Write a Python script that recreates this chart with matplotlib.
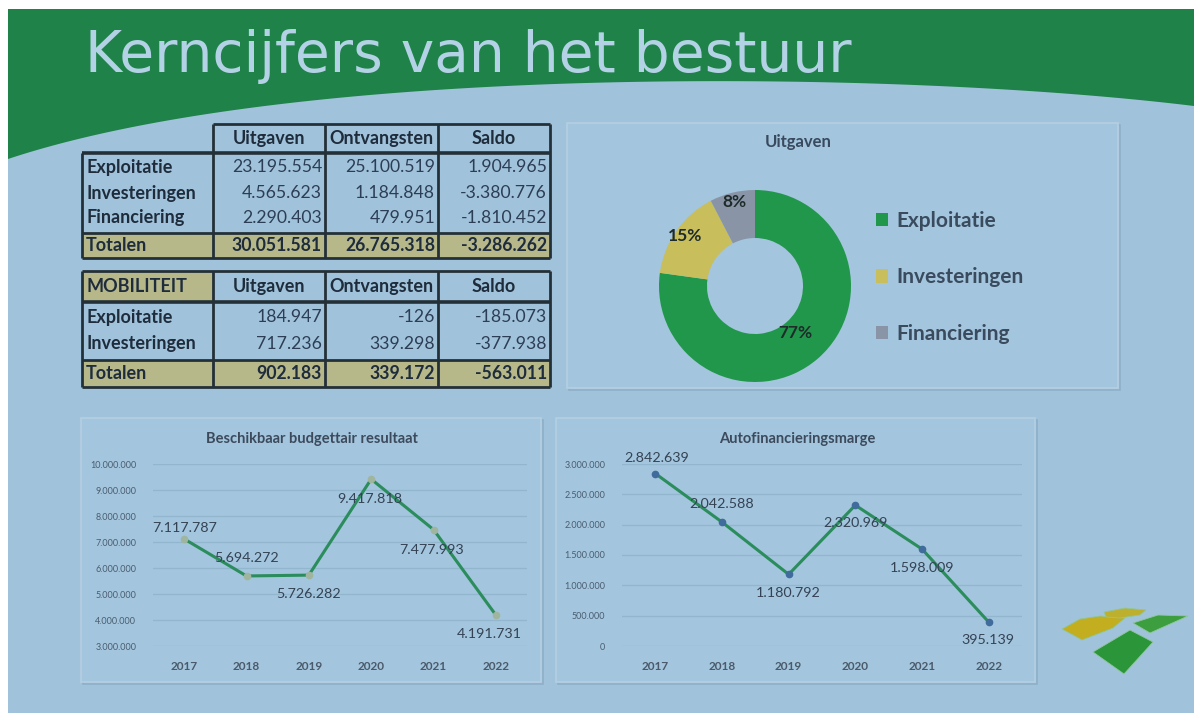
import numpy as np
import matplotlib
matplotlib.use("Agg")
import matplotlib.pyplot as plt
from matplotlib.patches import Polygon, Rectangle
from matplotlib.ticker import FuncFormatter

# ---------------- data ----------------
title = "Kerncijfers van het bestuur"
col_headers = ["Uitgaven", "Ontvangsten", "Saldo"]

t1_rows = ["Exploitatie", "Investeringen", "Financiering"]
t1_uitgaven = [23195554, 4565623, 2290403]
t1_ontvangsten = [25100519, 1184848, 479951]
t1_saldo = [1904965, -3380776, -1810452]
t1_totals = [30051581, 26765318, -3286262]

t2_title = "MOBILITEIT"
t2_rows = ["Exploitatie", "Investeringen"]
t2_uitgaven = [184947, 717236]
t2_ontvangsten = [-126, 339298]
t2_saldo = [-185073, -377938]
t2_totals = [902183, 339172, -563011]
totals_label = "Totalen"

donut_title = "Uitgaven"
donut_labels = ["Exploitatie", "Investeringen", "Financiering"]
donut_values = t1_uitgaven

years = ["2017", "2018", "2019", "2020", "2021", "2022"]
bbr_title = "Beschikbaar budgettair resultaat"
bbr_values = [7117787, 5694272, 5726282, 9417818, 7477993, 4191731]
afm_title = "Autofinancieringsmarge"
afm_values = [2842639, 2042588, 1180792, 2320969, 1598009, 395139]

# ---------------- style ----------------
W, H = 1194, 713
BG = "#A0C3DB"
GREEN_HDR = "#1F8249"
TXT = "#1E2C3C"
NUM = "#2C3E55"
OLIVE = "#B6B88A"
LINE = "#243038"
FONT = "Lato"
LBL_FS = 13
NUM_FS = 12.7

def nl(v):
    return f"{v:,}".replace(",", ".")

fig = plt.figure(figsize=(W / 100, H / 100), dpi=100)
fig.patch.set_facecolor("white")
bg = fig.add_axes([0, 0, 1, 1])
bg.set_xlim(0, W)
bg.set_ylim(H, 0)
bg.axis("off")

# slide background
bg.add_patch(Rectangle((8, 9), W - 8, H - 9, facecolor=BG, edgecolor="none", zorder=0))
# green header with curved bottom (cubic bezier)
P0, P1, P2, P3 = np.array([8, 159]), np.array([300, 62]), np.array([900, 70]), np.array([1194, 106])
t = np.linspace(0, 1, 200)[:, None]
curve = (1 - t) ** 3 * P0 + 3 * (1 - t) ** 2 * t * P1 + 3 * (1 - t) * t ** 2 * P2 + t ** 3 * P3
hdr = np.vstack([[[8, 9], [1194, 9]], curve[::-1]])
bg.add_patch(Polygon(hdr, closed=True, facecolor=GREEN_HDR, edgecolor="none", zorder=1))

# title fitted to width
tt = bg.text(85, 72, title, fontsize=40, color="#B4D2E6", family="DejaVu Sans",
             ha="left", va="baseline", zorder=5)
fig.canvas.draw()
r = fig.canvas.get_renderer()
w = tt.get_window_extent(r).width
tt.set_fontsize(40 * 765 / w)

# ---------------- tables ----------------
cx = [82, 213, 325, 438, 550]

def hline(y, x0, x1, lw=2.0):
    bg.plot([x0, x1], [y, y], color=LINE, lw=lw, zorder=4, solid_capstyle="butt")

def vline(x, y0, y1, lw=2.0):
    bg.plot([x, x], [y0, y1], color=LINE, lw=lw, zorder=4, solid_capstyle="butt")

def draw_table(top, hdr_bot, row_ys, tot_top, tot_bot, rows, cols, totals, corner=None):
    bg.add_patch(Rectangle((cx[0], tot_top), cx[-1] - cx[0], tot_bot - tot_top,
                           facecolor=OLIVE, edgecolor="none", zorder=2))
    hy = (top + hdr_bot) / 2
    if corner:
        bg.add_patch(Rectangle((cx[0], top), cx[1] - cx[0], hdr_bot - top,
                               facecolor=OLIVE, edgecolor="none", zorder=2))
        bg.text(cx[0] + 4, hy, corner, fontsize=LBL_FS, weight="bold", color=TXT,
                family=FONT, ha="left", va="center", zorder=5)
        hline(top, cx[0], cx[-1])
        vline(cx[0], top, tot_bot)
    else:
        hline(top, cx[1], cx[-1])
        vline(cx[0], hdr_bot, tot_bot)
    for j, h in enumerate(col_headers):
        bg.text((cx[j + 1] + cx[j + 2]) / 2, hy, h, fontsize=LBL_FS, weight="bold",
                color=TXT, family=FONT, ha="center", va="center", zorder=5)
    hline(hdr_bot, cx[0], cx[-1], lw=2.6)
    hline(tot_top, cx[0], cx[-1])
    hline(tot_bot, cx[0], cx[-1])
    for x in cx[1:]:
        vline(x, top, tot_bot)
    for i, name in enumerate(rows):
        y = row_ys[i]
        bg.text(cx[0] + 4, y, name, fontsize=LBL_FS, weight="bold", color=TXT,
                family=FONT, ha="left", va="center", zorder=5)
        for j, col in enumerate(cols):
            bg.text(cx[j + 2] - 3, y, nl(col[i]), fontsize=NUM_FS, color=NUM,
                    family=FONT, ha="right", va="center", zorder=5)
    ty = (tot_top + tot_bot) / 2
    bg.text(cx[0] + 4, ty, totals_label, fontsize=LBL_FS, weight="bold", color=TXT,
            family=FONT, ha="left", va="center", zorder=5)
    for j, v in enumerate(totals):
        bg.text(cx[j + 2] - 3, ty, nl(v), fontsize=NUM_FS, weight="bold", color=TXT,
                family=FONT, ha="right", va="center", zorder=5)

draw_table(124, 153, [167, 193, 218], 233, 258, t1_rows,
           [t1_uitgaven, t1_ontvangsten, t1_saldo], t1_totals)
draw_table(271, 302, [317, 344], 360, 387, t2_rows,
           [t2_uitgaven, t2_ontvangsten, t2_saldo], t2_totals, corner=t2_title)

# ---------------- panels ----------------
def panel(x0, y0, x1, y1):
    bg.add_patch(Rectangle((x0 + 2, y0 + 2), x1 - x0, y1 - y0, facecolor="none",
                           edgecolor="#8EAFC8", lw=1.2, zorder=1.5))
    bg.add_patch(Rectangle((x0, y0), x1 - x0, y1 - y0, facecolor="#A3C5DD",
                           edgecolor="#B5CFE2", lw=1.2, zorder=2))

panel(567, 123, 1118, 388)
panel(81, 418, 541, 682)
panel(556, 418, 1035, 682)

def px_axes(x0, y0, x1, y1):
    return fig.add_axes([x0 / W, 1 - y1 / H, (x1 - x0) / W, (y1 - y0) / H])

# ---------------- donut ----------------
bg.text(798, 142, donut_title, fontsize=12, weight="bold", color="#3A4A5E",
        family=FONT, ha="center", va="center", zorder=5)
dax = px_axes(655, 186, 855, 386)
dax.set_zorder(3)
wedges, _, autot = dax.pie(donut_values, colors=["#21974B", "#C8BE5C", "#8995A6"],
                           startangle=90, counterclock=False, radius=0.96,
                           autopct=lambda p: f"{p:.0f}%", pctdistance=0.76,
                           wedgeprops=dict(width=0.48, edgecolor="none"),
                           textprops=dict(fontsize=12.5, weight="bold", color="#1E2B2A",
                                          family=FONT))
label_r = [0.62, 0.86, 0.86]
for wdg, at, rr in zip(wedges, autot, label_r):
    ang = np.deg2rad((wdg.theta1 + wdg.theta2) / 2)
    at.set_position((rr * np.cos(ang), rr * np.sin(ang)))
dax.set_xlim(-1, 1)
dax.set_ylim(-1, 1)
dax.set_aspect("equal")
dax.axis("off")
leg = fig.legend(wedges, donut_labels, loc="upper left",
                 bbox_to_anchor=(857 / W, 1 - 192 / H), frameon=False,
                 handlelength=0.6, handleheight=0.6, handletextpad=0.4,
                 labelspacing=1.76, prop=dict(family=FONT, weight="bold", size=15))
for txt in leg.get_texts():
    txt.set_color("#3A4B5E")

# ---------------- line charts ----------------
def line_chart(box, values, ylim, step, ttl, title_xy, marker_color, offsets):
    ax = px_axes(*box)
    ax.set_zorder(3)
    ax.patch.set_alpha(0)
    x = np.arange(len(years))
    ax.plot(x, values, color="#2B8C5C", lw=2.2, zorder=3)
    ax.plot(x, values, "o", ms=4.5, color=marker_color, zorder=4)
    ax.set_xlim(-0.5, len(years) - 0.5)
    ax.set_ylim(*ylim)
    ax.set_yticks(np.arange(ylim[0], ylim[1] + 1, step))
    ax.yaxis.set_major_formatter(FuncFormatter(lambda v, p: nl(int(round(v)))))
    ax.set_xticks(x)
    ax.set_xticklabels(years)
    ax.grid(axis="y", color="#93B6CF", lw=0.9)
    ax.set_axisbelow(True)
    for s in ax.spines.values():
        s.set_visible(False)
    ax.tick_params(axis="y", length=0, labelsize=6.5, labelcolor="#4A5D70", pad=12)
    ax.tick_params(axis="x", length=0, labelsize=8.5, labelcolor="#4A5A6A", pad=11)
    for lab in ax.get_xticklabels() + ax.get_yticklabels():
        lab.set_family(FONT)
    for xl in ax.get_xticklabels():
        xl.set_weight("bold")
    for i, v in enumerate(values):
        ax.annotate(nl(v), (i, v), xytext=offsets[i], textcoords="offset pixels",
                    ha="center", va="center", fontsize=10.3, color="#344354",
                    family=FONT, zorder=5)
    bg.text(title_xy[0], title_xy[1], ttl, fontsize=10.5, weight="bold",
            color="#3C4A5C", family=FONT, ha="center", va="center", zorder=5)
    return ax

line_chart((153, 464, 527, 646), bbr_values, (3000000, 10000000), 1000000, bbr_title,
           (312, 439), "#9FB59E",
           [(1, 11), (0, 18), (0, -19), (-1, -20), (-2, -20), (-7, -19)])
line_chart((622, 464, 1022, 646), afm_values, (0, 3000000), 500000, afm_title,
           (797, 439), "#3F6C9C",
           [(1, 16), (0, 18), (0, -19), (0, -18), (0, -19), (-1, -18)])

# ---------------- logo ----------------
logo = [
    ([(1062, 629), (1080, 619), (1100, 616), (1125, 618), (1113, 628), (1082, 640)], "#C2AE1E"),
    ([(1104, 612), (1125, 608), (1146, 610), (1140, 615), (1120, 618), (1106, 617)], "#BDB02E"),
    ([(1093, 652), (1130, 630), (1153, 642), (1124, 674)], "#2B953A"),
    ([(1133, 623), (1158, 615), (1188, 616), (1150, 633)], "#3C9E3E"),
]
for pts, c in logo:
    bg.add_patch(Polygon(pts, closed=True, facecolor=c, edgecolor="#8FC79A", lw=0.6, zorder=3))

fig.savefig("out.png", dpi=100, facecolor=fig.get_facecolor())
